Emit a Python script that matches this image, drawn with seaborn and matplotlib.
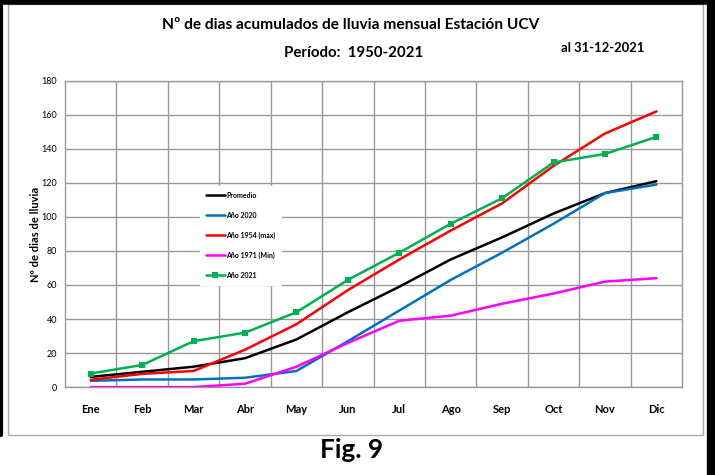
import pandas as pd
import matplotlib.pyplot as plt
import seaborn as sns
from matplotlib.patches import Rectangle
from matplotlib.lines import Line2D

# Data
meses = ['Ene', 'Feb', 'Mar', 'Abr', 'May', 'Jun', 'Jul', 'Ago', 'Sep', 'Oct', 'Nov', 'Dic']
promedio = [6, 9, 12, 17, 28, 44, 59, 75, 88, 102, 114, 121]
anio_2020 = [3.7, 4.5, 4.5, 5.5, 9.5, 27, 45, 63, 79, 96, 114, 119]
anio_1954 = [4.3, 7.8, 9.5, 22, 37, 57, 75, 92, 108, 130, 149, 162]
anio_1971 = [0, 0, 0, 2, 12, 26, 39, 42, 49, 55, 62, 64]
anio_2021 = [8, 13, 27, 32, 44, 63, 79, 96, 111, 132, 137, 147]

series = [
    ('Promedio', promedio, '#000000', None),
    ('Año 2020', anio_2020, '#0070C0', None),
    ('Año 1954 (max)', anio_1954, '#FF0000', None),
    ('Año 1971 (Min)', anio_1971, '#FF00FF', None),
    ('Año 2021', anio_2021, '#00B050', 's'),
]

sns.set_style('white')
plt.rcParams['font.family'] = ['Lato', 'DejaVu Sans']
for k in ['text.color', 'axes.labelcolor', 'xtick.color', 'ytick.color']:
    plt.rcParams[k] = 'black'

fig = plt.figure(figsize=(7.15, 4.75), dpi=100)
ax = fig.add_axes([0.091, 0.185, 0.863, 0.645])

pos = list(range(len(meses)))
for name, vals, color, marker in series:
    df = pd.DataFrame({'x': pos, 'y': vals})
    sns.lineplot(data=df, x='x', y='y', ax=ax, color=color, linewidth=1.8,
                 marker=marker, markersize=4.5, markeredgewidth=0, label=name, zorder=3)

ax.set_xlim(-0.5, 11.5)
ax.set_ylim(0, 180)
ax.set_yticks(range(0, 181, 20))
ax.set_xticks(pos)
ax.set_xticklabels(meses, fontsize=8, fontweight='bold')
ax.set_xticks([p + 0.5 for p in pos[:-1]], minor=True)
ax.tick_params(axis='y', labelsize=6.5, length=0, pad=5.8)
ax.tick_params(axis='x', which='both', length=0, pad=12)
ax.grid(True, axis='y', color='#999999', linewidth=1)
ax.grid(True, axis='x', which='minor', color='#999999', linewidth=1)
ax.grid(False, axis='x', which='major')
for s in ax.spines.values():
    s.set_color('#999999')
    s.set_linewidth(1)
ax.set_xlabel('')
ax.set_ylabel('Nº de dias de lluvia', fontsize=8, fontweight='bold', labelpad=0.5)

leg = ax.legend(loc='upper left', bbox_to_anchor=(0.218, 0.658), frameon=True,
                prop={'weight': 'bold', 'size': 5},
                handlelength=2.7, handletextpad=0.2, labelspacing=1.85,
                borderpad=0.9, borderaxespad=0)
leg.get_frame().set_edgecolor('white')
leg.get_frame().set_facecolor('white')
leg.get_frame().set_alpha(1)
leg.get_frame().set_boxstyle('square', pad=0)
leg.set_zorder(5)

fig.text(0.491, 0.947, 'Nº de dias acumulados de lluvia mensual Estación UCV',
         ha='center', va='center', fontsize=11.2, fontweight='bold')
fig.text(0.494, 0.888, 'Período:  1950-2021', ha='center', va='center',
         fontsize=10.8, fontweight='bold')
fig.text(0.843, 0.899, 'al 31-12-2021', ha='center', va='center',
         fontsize=9.4, fontweight='bold')
fig.text(0.492, 0.053, 'Fig. 9', ha='center', va='center', fontsize=18.8,
         fontweight='bold')

# chart area frame and page border
fig.patches.append(Rectangle((8 / 715, 1 - 435 / 475), 695 / 715, 431 / 475,
                             transform=fig.transFigure, fill=False,
                             edgecolor='#aaaaaa', linewidth=1))
fig.lines.append(Line2D([0, 1], [0.995, 0.995], transform=fig.transFigure,
                        color='black', linewidth=4))
fig.lines.append(Line2D([0.002, 0.002], [1 - 435 / 475, 1], transform=fig.transFigure,
                        color='black', linewidth=3))
fig.lines.append(Line2D([0.995, 0.995], [0, 1], transform=fig.transFigure,
                        color='black', linewidth=6))

fig.savefig('out.png', dpi=100)
